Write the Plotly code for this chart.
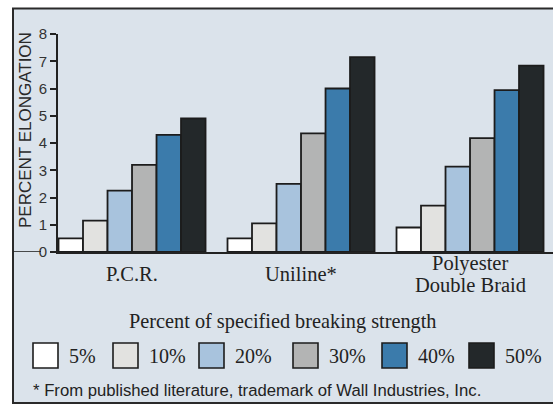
import plotly.graph_objects as go

# ---------------- data ----------------
categories = ["P.C.R.", "Uniline*", "Polyester<br>Double Braid"]
series_names = ["5%", "10%", "20%", "30%", "40%", "50%"]
pcr_values = [0.5, 1.15, 2.25, 3.2, 4.3, 4.9]
uniline_values = [0.5, 1.05, 2.5, 4.35, 6.0, 7.15]
polyester_values = [0.9, 1.7, 3.13, 4.18, 5.94, 6.84]
y_ticks = [0, 1, 2, 3, 4, 5, 6, 7, 8]

y_title = "PERCENT ELONGATION"
legend_title = "Percent of specified breaking strength"
footnote = "* From published literature, trademark of Wall Industries, Inc."

# ---------------- styles ----------------
bar_colors = ["#ffffff", "#e2e2e0", "#a8c3dd", "#b3b4b4", "#3b7bab", "#23282a"]
bg_color = "#dbe3eb"
ink = "#222222"
SERIF = "Liberation Serif"
SANS = "Liberation Sans"

W, H = 553, 407
L, R, T, B = 58, 0, 34, 155
PW, PH = W - L - R, H - T - B


def px(x):
    return (x - L) / PW


def py(y):
    return (H - B - y) / PH


by_series = list(zip(pcr_values, uniline_values, polyester_values))

fig = go.Figure()
for name, color, vals in zip(series_names, bar_colors, by_series):
    fig.add_trace(go.Bar(
        x=categories, y=list(vals), name=name,
        marker=dict(color=color, line=dict(color="#1c1c1c", width=1.8)),
        showlegend=False,
    ))

shapes = [
    # framed panel
    dict(type="rect", xref="paper", yref="paper",
         x0=px(13), x1=px(562), y0=py(403), y1=py(8.5),
         fillcolor=bg_color, line=dict(color="#2a2a2a", width=2), layer="below"),
    # zero line extension to the left of the label
    dict(type="line", xref="paper", yref="y", x0=px(13), x1=px(41), y0=0, y1=0,
         line=dict(color=ink, width=1.6)),
]

annotations = [
    dict(text=y_title, xref="paper", yref="paper", x=px(25), y=py(130),
         textangle=-90, showarrow=False, xanchor="center", yanchor="middle",
         font=dict(family=SANS, size=17, color="#2a2a2a")),
    dict(text=legend_title, xref="paper", yref="paper", x=px(283), y=py(321),
         showarrow=False, xanchor="center", yanchor="middle",
         font=dict(family=SERIF, size=20.3, color=ink)),
    dict(text=footnote, xref="paper", yref="paper", x=px(31), y=py(391),
         showarrow=False, xanchor="left", yanchor="middle",
         font=dict(family=SANS, size=16.7, color=ink)),
]

# category labels (centred, multi-line with tight spacing)
label_center_y = 274
line_h = 21
for cat in categories:
    lines = cat.split("<br>")
    n = len(lines)
    for i, ln in enumerate(lines):
        yc = label_center_y + (i - (n - 1) / 2) * line_h
        annotations.append(dict(text=ln, x=cat, xref="x", yref="paper", y=py(yc),
                                showarrow=False, xanchor="center", yanchor="middle",
                                font=dict(family=SERIF, size=20.5, color=ink)))

# custom legend with large swatches
legend_box_x = [33, 113, 199, 293, 382, 469]
box_w, box_top, box_bot = 25, 343, 368
for name, color, bx in zip(series_names, bar_colors, legend_box_x):
    shapes.append(dict(type="rect", xref="paper", yref="paper",
                       x0=px(bx), x1=px(bx + box_w), y0=py(box_bot), y1=py(box_top),
                       fillcolor=color, line=dict(color="#1c1c1c", width=1.6)))
    annotations.append(dict(text=name, xref="paper", yref="paper",
                            x=px(bx + box_w + 9), y=py((box_top + box_bot) / 2),
                            showarrow=False, xanchor="left", yanchor="middle",
                            font=dict(family=SERIF, size=20, color=ink)))

fig.update_layout(
    width=W, height=H,
    margin=dict(l=L, r=R, t=T, b=B, pad=0),
    paper_bgcolor="#ffffff",
    plot_bgcolor="rgba(0,0,0,0)",
    barmode="group", bargap=0.13, bargroupgap=0,
    showlegend=False,
    shapes=shapes, annotations=annotations,
    xaxis=dict(type="category", range=[-0.438, 2.491], showticklabels=False,
               showline=True, linecolor=ink, linewidth=1.6, ticks="",
               showgrid=False, zeroline=False, fixedrange=True),
    yaxis=dict(range=[0, 8], tickvals=y_ticks, ticks="outside", ticklen=6,
               tickcolor=ink, tickwidth=1.6, showline=True, linecolor=ink,
               linewidth=1.8, showgrid=False, zeroline=False,
               tickfont=dict(family=SANS, size=15, color="#333333"),
               fixedrange=True),
)

fig.write_html("out.html", config={"displayModeBar": False})

# remove the browser's default body margin so the figure sits at (0, 0)
with open("out.html", "r", encoding="utf-8") as f:
    html = f.read()
html = html.replace("<body>", '<body style="margin:0;padding:0;overflow:hidden">', 1)
with open("out.html", "w", encoding="utf-8") as f:
    f.write(html)
